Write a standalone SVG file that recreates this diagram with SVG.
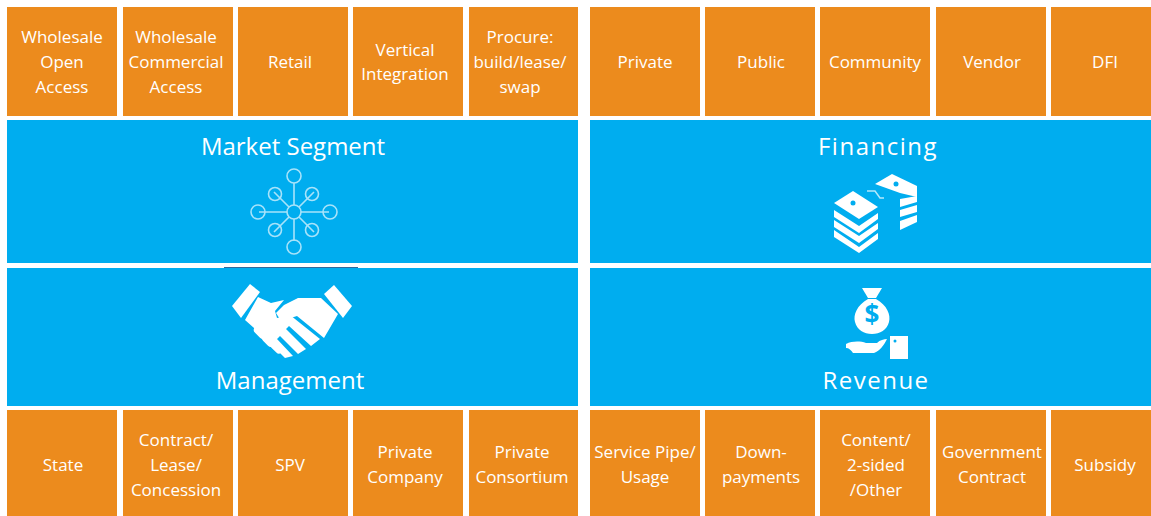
<svg xmlns="http://www.w3.org/2000/svg" width="1151" height="516" viewBox="0 0 1151 516">
<style>
.t{fill:#ec8b1d}
.b{fill:#00adef}
text{font-family:"Open Sans","Liberation Sans",sans-serif;fill:#fff;text-anchor:middle}
.l{font-size:17px;font-weight:400}
.h{font-size:24px}
.w{fill:#fff}
.n{fill:none;stroke:#a8e3fa;stroke-width:1.6}
</style>
<rect width="1151" height="516" fill="#fff"/>
<g id="top-left">
<g id="wholesale-open"><rect class="t" x="7" y="7" width="110" height="109"/><text class="l"><tspan x="62" y="43">Wholesale</tspan><tspan x="62" y="68">Open</tspan><tspan x="62" y="93">Access</tspan></text></g>
<g id="wholesale-commercial"><rect class="t" x="123" y="7" width="110" height="109"/><text class="l"><tspan x="176" y="43">Wholesale</tspan><tspan x="176" y="68">Commercial</tspan><tspan x="176" y="93">Access</tspan></text></g>
<g id="retail"><rect class="t" x="238" y="7" width="110" height="109"/><text class="l" x="290" y="68">Retail</text></g>
<g id="vertical"><rect class="t" x="353" y="7" width="110" height="109"/><text class="l"><tspan x="405" y="56">Vertical</tspan><tspan x="405" y="80">Integration</tspan></text></g>
<g id="procure"><rect class="t" x="469" y="7" width="109" height="109"/><text class="l"><tspan x="520" y="43">Procure:</tspan><tspan x="520" y="68">build/lease/</tspan><tspan x="520" y="93">swap</tspan></text></g>
</g>
<g id="top-right">
<g id="private"><rect class="t" x="590" y="7" width="110" height="109"/><text class="l" x="645" y="68">Private</text></g>
<g id="public"><rect class="t" x="705" y="7" width="110" height="109"/><text class="l" x="761" y="68">Public</text></g>
<g id="community"><rect class="t" x="820" y="7" width="110" height="109"/><text class="l" x="875" y="68">Community</text></g>
<g id="vendor"><rect class="t" x="936" y="7" width="110" height="109"/><text class="l" x="992" y="68">Vendor</text></g>
<g id="dfi"><rect class="t" x="1051" y="7" width="100" height="109"/><text class="l" x="1105" y="68">DFI</text></g>
</g>
<g id="market-segment"><rect class="b" x="7" y="120" width="571" height="143"/><text class="h" x="293" y="155">Market Segment</text>
<g class="n"><path d="M294 183V205M294 219V241M259 212H287M301 212H329M274 192L289 207M314 192L299 207M274 232L289 217M314 232L299 217"/>
<circle cx="294" cy="176" r="7"/><circle cx="294" cy="212" r="7"/><circle cx="294" cy="247" r="7"/><circle cx="258" cy="212" r="7"/><circle cx="330" cy="212" r="7"/><circle cx="275" cy="194" r="6.5"/><circle cx="312" cy="194" r="6.5"/><circle cx="275" cy="230" r="6.5"/><circle cx="312" cy="230" r="6.5"/></g></g>
<g id="financing"><rect class="b" x="590" y="120" width="561" height="143"/><text class="h" x="878" y="155" letter-spacing="1.5">Financing</text>
<g class="w"><path d="M834 203L853 191L878 207L859 219Z"/><path d="M834 210L859 226L878 213V219L859 233L834 217Z"/><path d="M834 220L859 236L878 223V229L859 243L834 227Z"/><path d="M834 230L859 247L878 233V239L859 253L834 237Z"/>
<path d="M875 184L892 174L917 186V197L900 193Z"/><path d="M900 199L917 196V202L900 207Z"/><path d="M900 210L917 205V212L900 217Z"/><path d="M900 221L917 215V222L900 230Z"/></g>
<circle cx="853" cy="203" r="2.5" class="b"/><circle cx="896" cy="184" r="2.5" class="b"/>
<path d="M867 191H875L880 198H884" fill="none" stroke="#b5e8fb" stroke-width="1.5"/></g>
<g id="management"><rect class="b" x="7" y="268" width="571" height="138"/><rect x="224" y="267" width="134" height="1" fill="#33689a"/>
<g class="w"><path d="M232 306L250 284L260 292L241 318Z"/><path d="M334 285L352 306L343 318L324 294Z"/>
<path d="M258 297L271 303L284 300L275 311L277 318L290 315L320 339L311 346L289 326L286 329L306 349L298 354L280 336L277 339L293 356L285 358L270 343L262 335L245 320Z"/>
<path d="M284 305L298 298L321 298L338 314L324 338L297 316L281 321L276 313Z"/>
<rect x="256" y="325" width="8" height="15" rx="4" transform="rotate(-45 260 332)"/><rect x="264" y="333" width="8" height="15" rx="4" transform="rotate(-45 268 340)"/><rect x="273" y="341" width="7" height="14" rx="3.5" transform="rotate(-45 276 348)"/></g>
<text class="h" x="290" y="389">Management</text></g>
<g id="revenue"><rect class="b" x="590" y="268" width="561" height="138"/>
<g class="w"><path d="M862 288L882 288L876 298L868 298Z"/><path d="M868 299H876C887 305 891 315 889 322C887 330 880 334 872 334C864 334 857 330 855 322C853 315 857 305 868 299Z"/>
<path d="M846 344C852 341 860 341 866 343L877 343C880 340 884 339 887 339C884 345 880 351 874 353H853C851 350 849 348 846 348Z"/><path d="M890 336H908V359H890Z"/></g>
<circle cx="895" cy="341" r="1.5" class="b"/>
<text x="872" y="324" font-size="26" font-weight="700" style="fill:#00adef">$</text>
<text class="h" x="876" y="389" letter-spacing="1.5">Revenue</text></g>
<g id="bottom-left">
<g id="state"><rect class="t" x="7" y="410" width="110" height="106"/><text class="l" x="63" y="471">State</text></g>
<g id="contract"><rect class="t" x="123" y="410" width="110" height="106"/><text class="l"><tspan x="176" y="446">Contract/</tspan><tspan x="176" y="471">Lease/</tspan><tspan x="176" y="496">Concession</tspan></text></g>
<g id="spv"><rect class="t" x="238" y="410" width="110" height="106"/><text class="l" x="290" y="471">SPV</text></g>
<g id="private-company"><rect class="t" x="353" y="410" width="110" height="106"/><text class="l"><tspan x="405" y="458">Private</tspan><tspan x="405" y="483">Company</tspan></text></g>
<g id="private-consortium"><rect class="t" x="469" y="410" width="109" height="106"/><text class="l"><tspan x="522" y="458">Private</tspan><tspan x="522" y="483">Consortium</tspan></text></g>
</g>
<g id="bottom-right">
<g id="service"><rect class="t" x="590" y="410" width="110" height="106"/><text class="l"><tspan x="645" y="458">Service Pipe/</tspan><tspan x="645" y="483">Usage</tspan></text></g>
<g id="down"><rect class="t" x="705" y="410" width="110" height="106"/><text class="l"><tspan x="761" y="458">Down-</tspan><tspan x="761" y="483">payments</tspan></text></g>
<g id="content"><rect class="t" x="820" y="410" width="110" height="106"/><text class="l"><tspan x="876" y="446">Content/</tspan><tspan x="876" y="471">2-sided</tspan><tspan x="876" y="496">/Other</tspan></text></g>
<g id="government"><rect class="t" x="936" y="410" width="110" height="106"/><text class="l"><tspan x="992" y="458">Government</tspan><tspan x="992" y="483">Contract</tspan></text></g>
<g id="subsidy"><rect class="t" x="1051" y="410" width="100" height="106"/><text class="l" x="1105" y="471">Subsidy</text></g>
</g>
</svg>
